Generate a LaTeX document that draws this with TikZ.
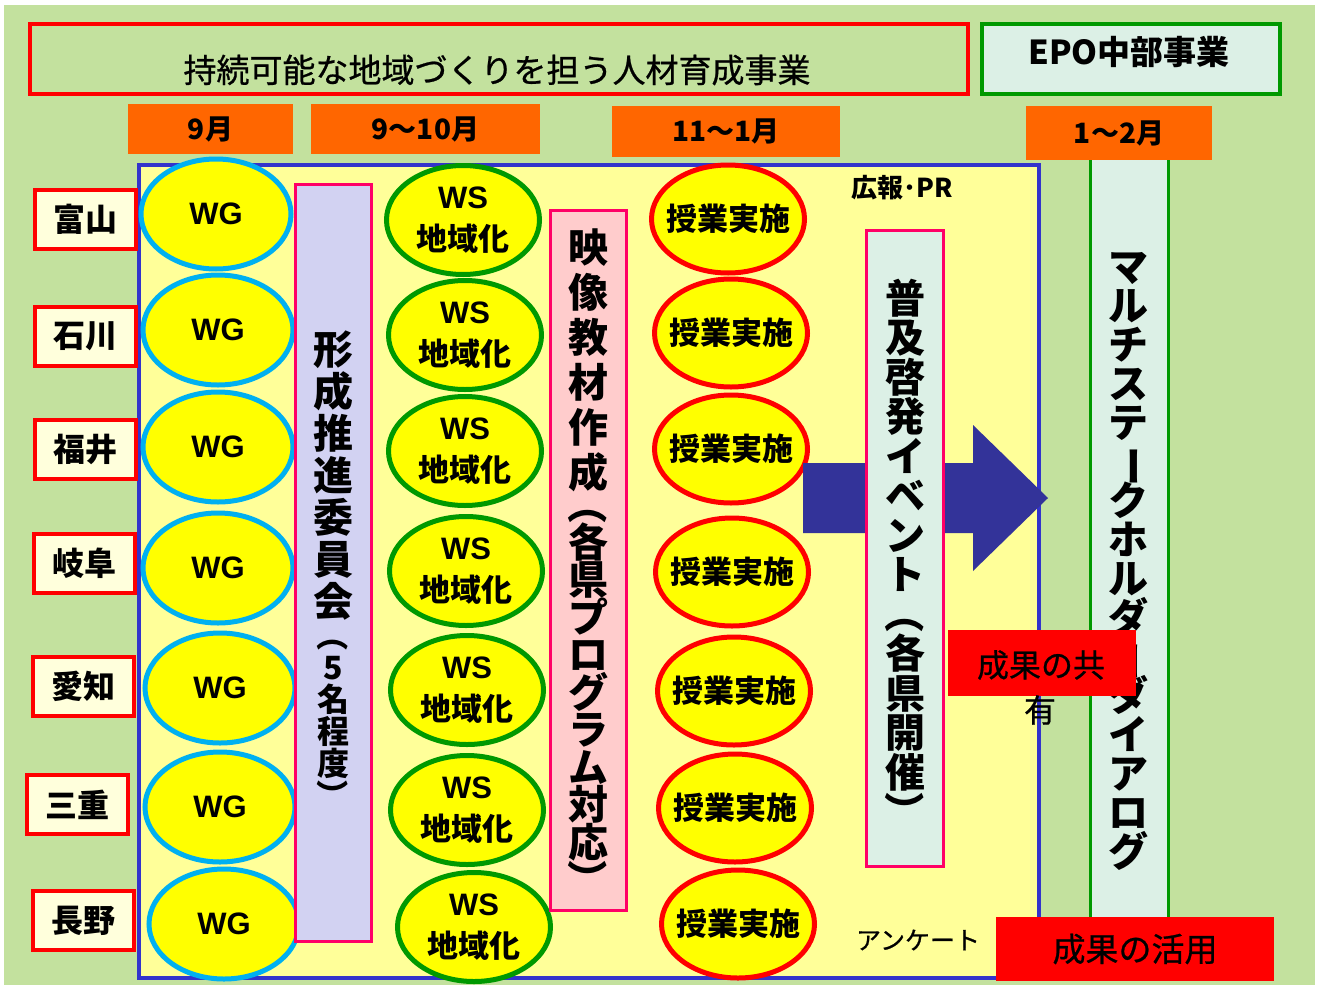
\documentclass[tikz,border=0pt]{standalone}
\usepackage{fontspec}
\setmainfont{Liberation Sans}
\newfontfamily\jp{Noto Sans CJK JP}
\newfontfamily\jpm[FakeBold=0.7]{Noto Sans CJK JP}
\usetikzlibrary{shapes.geometric}
\definecolor{bggreen}{RGB}{195,225,158}
\definecolor{lightyel}{RGB}{255,255,153}
\definecolor{preffill}{RGB}{255,255,220}
\definecolor{lavfill}{RGB}{210,210,242}
\definecolor{pinkfill}{RGB}{255,204,204}
\definecolor{cyanfill}{RGB}{220,240,230}
\definecolor{orangebox}{RGB}{255,102,0}
\definecolor{frameblue}{RGB}{51,51,204}
\definecolor{arrowblue}{RGB}{51,51,153}
\definecolor{pinkline}{RGB}{255,0,102}
\definecolor{wgblue}{RGB}{0,176,240}
\definecolor{wsgreen}{RGB}{0,153,0}
\definecolor{yel}{RGB}{255,255,0}
\newcommand\jsz[2]{\fontsize{#1}{#2}\selectfont}
\newcommand\vrot[1]{\rotatebox[origin=c]{-90}{#1}}
\setlength{\lineskiplimit}{-100pt}
\begin{document}
\begin{tikzpicture}[x=1pt,y=-1pt,
  prefbox/.style={draw=red, line width=4, fill=preffill, minimum width=101, minimum height=59, inner sep=0, font=\jp\bfseries\jsz{32}{36}},
  wgell/.style={ellipse, draw=wgblue, line width=5, fill=yel, minimum width=150, minimum height=110, inner sep=0, font=\bfseries\jsz{31}{34}},
  wsell/.style={ellipse, draw=wsgreen, line width=5, fill=yel, minimum width=153, minimum height=109, inner sep=0, align=center, font=\bfseries\jsz{31}{42}},
  jgell/.style={ellipse, draw=red, line width=5, fill=yel, minimum width=153, minimum height=108, inner xsep=-20pt, inner ysep=0, font=\jp\bfseries\jsz{31}{36}},
  mon/.style={fill=orangebox, inner sep=0, font=\jp\bfseries\jsz{28}{32}},
  column/.style={draw=pinkline, line width=3, inner sep=0},
  vtext/.style={align=center, inner sep=0, font=\jp\bfseries\jsz{40}{#1}},
  vsmall/.style={align=center, inner sep=0, font=\jp\bfseries\jsz{32}{#1}},
  redbox/.style={fill=red, inner sep=0},
  plain/.style={inner sep=0}
]
\fill[white] (0,0) rectangle (1319,985);
\fill[bggreen] (4,5) rectangle (1315,985);
\useasboundingbox (0,0) rectangle (1319,985);

% header
\node[draw=red, line width=4, fill=bggreen, minimum width=938, minimum height=70, inner sep=0] (title) at (499,59) {};
\node[plain, font=\jpm\jsz{33}{36}] (titletxt) at (497,70) {持続可能な地域づくりを担う人材育成事業};
\node[draw=wsgreen, line width=4, fill=cyanfill, minimum width=298, minimum height=70, inner sep=0] (epo) at (1131,59) {};
\node[plain, font=\jp\bfseries\jsz{33}{36}] (epotxt) at (1129,52) {EPO中部事業};

% multistakeholder column (behind month box)
\node[draw=wsgreen, line width=3, fill=cyanfill, minimum width=78, minimum height=774, inner sep=0] (multi) at (1129,537) {};
\node[vtext=39] (multitxt) at (1128,561) {マ\\ル\\チ\\ス\\テ\\\vrot{ー}\\ク\\ホ\\ル\\ダ\\\vrot{ー}\\ダ\\イ\\ア\\ロ\\グ};

% months
\node[mon, minimum width=165, minimum height=50] (m1) at (210.5,129) {9月};
\node[mon, minimum width=229, minimum height=50] (m2) at (425.5,129) {9～10月};
\node[mon, minimum width=228, minimum height=51] (m3) at (726,131.5) {11～1月};
\node[mon, minimum width=186, minimum height=54] (m4) at (1119,133) {1～2月};

% main box
\node[draw=frameblue, line width=3.5, fill=lightyel, minimum width=900, minimum height=813, inner sep=0] (main) at (589,571.5) {};

% prefectures
\node[prefbox] (toyama) at (85.5,219) {富山};
\node[prefbox] (ishikawa) at (85.5,336.5) {石川};
\node[prefbox] (fukui) at (85.5,449) {福井};
\node[prefbox] (gifu) at (84,563.5) {岐阜};
\node[prefbox] (aichi) at (83,686.5) {愛知};
\node[prefbox] (mie) at (77.5,804.5) {三重};
\node[prefbox] (nagano) at (83,920.5) {長野};

% WG ellipses
\node[wgell] (wg1) at (216,214) {WG};
\node[wgell] (wg2) at (218,330) {WG};
\node[wgell] (wg3) at (218,447) {WG};
\node[wgell] (wg4) at (218,568) {WG};
\node[wgell] (wg5) at (220,688) {WG};
\node[wgell] (wg6) at (220,807) {WG};
\node[wgell] (wg7) at (224,924) {WG};

% committee column
\node[column, fill=lavfill, minimum width=76, minimum height=757] (keisei) at (333,562.5) {};
\node[vtext=42] (keiseiA) at (333,476) {形\\成\\推\\進\\委\\員\\会};
\node[vsmall=32] (keiseiB) at (333,715) {\vrot{（}\\5\\名\\程\\度\\\vrot{）}};

% WS ellipses
\node[wsell] (ws1) at (463,220) {WS\\{\jp 地域化}};
\node[wsell] (ws2) at (465,335) {WS\\{\jp 地域化}};
\node[wsell] (ws3) at (465,451) {WS\\{\jp 地域化}};
\node[wsell] (ws4) at (466,571) {WS\\{\jp 地域化}};
\node[wsell] (ws5) at (467,690) {WS\\{\jp 地域化}};
\node[wsell] (ws6) at (467,810) {WS\\{\jp 地域化}};
\node[wsell] (ws7) at (474,927) {WS\\{\jp 地域化}};

% video material column
\node[column, fill=pinkfill, minimum width=76, minimum height=700] (eizo) at (588,560) {};
\node[vtext=45] (eizoA) at (588,360) {映\\像\\教\\材\\作\\成};
\node[vtext=37.5] (eizoB) at (588,692) {\vrot{（}\\各\\県\\プ\\ロ\\グ\\ラ\\ム\\対\\応\\\vrot{）}};

% lesson ellipses
\node[jgell] (jg1) at (728,219) {授業実施};
\node[jgell] (jg2) at (731,333) {授業実施};
\node[jgell] (jg3) at (731,449) {授業実施};
\node[jgell] (jg4) at (732,572) {授業実施};
\node[jgell] (jg5) at (734,691) {授業実施};
\node[jgell] (jg6) at (735,808) {授業実施};
\node[jgell] (jg7) at (738,924) {授業実施};

% big arrow
\fill[arrowblue] (803,463) -- (973,463) -- (973,425) -- (1048,498) -- (973,571) -- (973,533) -- (803,533) -- cycle;

% event column
\node[column, fill=cyanfill, minimum width=77, minimum height=636] (fukyu) at (904.5,548) {};
\node[vtext=39.5] (fukyutxt) at (905,555) {普\\及\\啓\\発\\イ\\ベ\\ン\\ト\\\vrot{（}\\各\\県\\開\\催\\\vrot{）}};

\node[plain, font=\jp\bfseries\jsz{26}{30}] (pr) at (902,188) {広報･PR};
\node[plain, font=\jpm\jsz{25}{30}] (enq) at (918,940) {アンケート};

% result boxes
\node[redbox, minimum width=188, minimum height=66] (share) at (1042,663) {};
\node[plain, font=\jpm\jsz{32}{36}] (sharetxt) at (1041,665) {成果の共};
\node[plain, font=\jpm\jsz{32}{36}] (sharetxt2) at (1040,710) {有};
\node[redbox, minimum width=278, minimum height=64, font=\jpm\jsz{33}{36}] (use) at (1135,949) {成果の活用};
\end{tikzpicture}
\end{document}
